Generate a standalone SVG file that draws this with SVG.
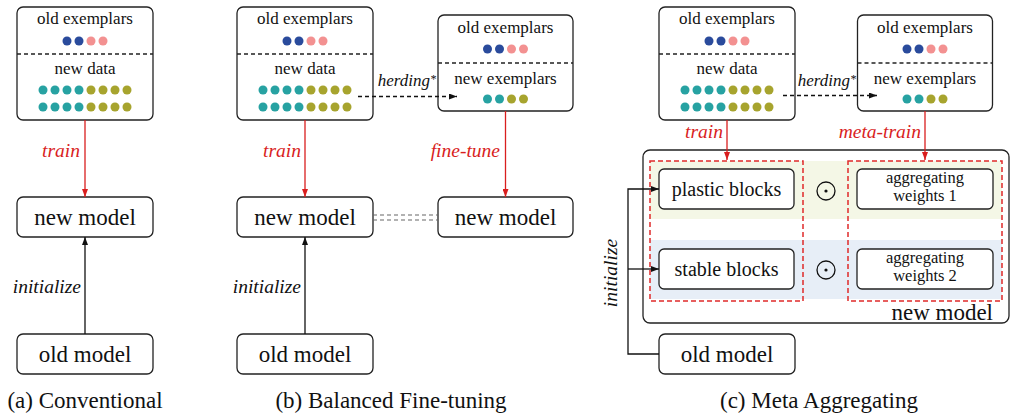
<svg xmlns="http://www.w3.org/2000/svg" width="1011" height="413" viewBox="0 0 1011 413">
  <style>
    text { font-family: 'Liberation Serif', serif; }
    .box { fill: #fff; stroke: #222; stroke-width: 1.3; }
    .sep { stroke: #222; stroke-width: 1.3; stroke-dasharray: 4 3; fill: none; }
    .t { fill: #111; text-anchor: middle; }
    .s17 { font-size: 17px; }
    .s20 { font-size: 20px; }
    .s23 { font-size: 23px; }
    .agg { font-size: 16.5px; }
    .lbl { font-style: italic; font-size: 19.5px; text-anchor: end; }
    .red { fill: #d91e1e; }
    .blk { fill: #111; }
    .cap { font-size: 23px; fill: #111; text-anchor: middle; }
    .rline { stroke: #d91e1e; stroke-width: 1.3; fill: none; }
    .kline { stroke: #111; stroke-width: 1.3; fill: none; }
    .dline { stroke: #111; stroke-width: 1.3; stroke-dasharray: 4 3; fill: none; }
    .reddash { fill: none; stroke: #e02a2a; stroke-width: 1.5; stroke-dasharray: 5 3; }
    .b { fill: #2a4b9c; }
    .p { fill: #f39191; }
    .c { fill: #27a2a2; }
    .o { fill: #a7a42e; }
  </style>
  <defs>
    <marker id="ar" viewBox="0 0 8 6" refX="8" refY="3" markerWidth="8" markerHeight="6" markerUnits="userSpaceOnUse" orient="auto">
      <path d="M0,0 L8,3 L0,6 Z" fill="#d91e1e"/>
    </marker>
    <marker id="ak" viewBox="0 0 8 6" refX="8" refY="3" markerWidth="8" markerHeight="6" markerUnits="userSpaceOnUse" orient="auto">
      <path d="M0,0 L8,3 L0,6 Z" fill="#111"/>
    </marker>
    <!-- data box: old exemplars + new data -->
    <g id="dataBox">
      <rect class="box" x="-68" y="7" width="136" height="113" rx="6"/>
      <line class="sep" x1="-68" y1="54" x2="68" y2="54"/>
      <text class="t s17" font-family="Liberation Serif" x="0" y="24">old exemplars</text>
      <circle class="b" cx="-18" cy="41" r="4.5"/><circle class="b" cx="-6" cy="41" r="4.5"/>
      <circle class="p" cx="6" cy="41" r="4.5"/><circle class="p" cx="18" cy="41" r="4.5"/>
      <text class="t s17" font-family="Liberation Serif" x="0" y="74">new data</text>
      <circle class="c" cx="-42" cy="90" r="4.5"/><circle class="c" cx="-30" cy="90" r="4.5"/>
      <circle class="c" cx="-18" cy="90" r="4.5"/><circle class="c" cx="-6" cy="90" r="4.5"/>
      <circle class="o" cx="6" cy="90" r="4.5"/><circle class="o" cx="18" cy="90" r="4.5"/>
      <circle class="o" cx="30" cy="90" r="4.5"/><circle class="o" cx="42" cy="90" r="4.5"/>
      <circle class="c" cx="-42" cy="107" r="4.5"/><circle class="c" cx="-30" cy="107" r="4.5"/>
      <circle class="c" cx="-18" cy="107" r="4.5"/><circle class="c" cx="-6" cy="107" r="4.5"/>
      <circle class="o" cx="6" cy="107" r="4.5"/><circle class="o" cx="18" cy="107" r="4.5"/>
      <circle class="o" cx="30" cy="107" r="4.5"/><circle class="o" cx="42" cy="107" r="4.5"/>
    </g>
    <!-- exemplar memory box -->
    <g id="memBox">
      <rect class="box" x="-67.5" y="15" width="135" height="96" rx="6"/>
      <line class="sep" x1="-67.5" y1="63" x2="67.5" y2="63"/>
      <text class="t s17" font-family="Liberation Serif" x="0" y="33">old exemplars</text>
      <circle class="b" cx="-18" cy="49" r="4.5"/><circle class="b" cx="-6" cy="49" r="4.5"/>
      <circle class="p" cx="6" cy="49" r="4.5"/><circle class="p" cx="18" cy="49" r="4.5"/>
      <text class="t s17" font-family="Liberation Serif" x="0" y="84">new exemplars</text>
      <circle class="c" cx="-18" cy="99" r="4.5"/><circle class="c" cx="-6" cy="99" r="4.5"/>
      <circle class="o" cx="6" cy="99" r="4.5"/><circle class="o" cx="18" cy="99" r="4.5"/>
    </g>
  </defs>

  <!-- panel (a) -->
  <g id="a-data"><use href="#dataBox" x="85" y="0"/></g>
  <g id="a-new">
    <rect class="box" x="17" y="197" width="136" height="40" rx="6"/>
    <text class="t s23" font-family="Liberation Serif" x="85" y="225">new model</text>
  </g>
  <g id="a-old">
    <rect class="box" x="17" y="334" width="136" height="40" rx="6"/>
    <text class="t s23" font-family="Liberation Serif" x="85" y="362">old model</text>
  </g>
  <text class="cap" font-family="Liberation Serif" x="85" y="408">(a) Conventional</text>

  <!-- panel (b) -->
  <g id="b-data"><use href="#dataBox" x="305" y="0"/></g>
  <g id="b-mem"><use href="#memBox" x="505.5" y="0"/></g>
  <g id="b-new">
    <rect class="box" x="237" y="197" width="136" height="40" rx="6"/>
    <text class="t s23" font-family="Liberation Serif" x="305" y="225">new model</text>
  </g>
  <g id="b-ft">
    <rect class="box" x="438" y="197" width="135" height="40" rx="6"/>
    <text class="t s23" font-family="Liberation Serif" x="505.5" y="225">new model</text>
  </g>
  <g id="b-old">
    <rect class="box" x="237" y="334" width="136" height="40" rx="6"/>
    <text class="t s23" font-family="Liberation Serif" x="305" y="362">old model</text>
  </g>
  <text class="cap" font-family="Liberation Serif" x="391" y="408">(b) Balanced Fine-tuning</text>

  <!-- panel (c) -->
  <g id="c-data"><use href="#dataBox" x="727" y="0"/></g>
  <g id="c-mem"><use href="#memBox" x="925" y="0"/></g>
  <g id="c-new">
    <rect class="box" x="643" y="150" width="366" height="173" rx="7"/>
    <rect x="650" y="161" width="352" height="58" fill="#f4f7e6"/>
    <rect x="650" y="240" width="352" height="59" fill="#e7eef7"/>
    <rect class="reddash" x="650" y="161" width="153" height="140"/>
    <rect class="reddash" x="848" y="161" width="154" height="140"/>
    <text class="t s23" font-family="Liberation Serif" x="993" y="320" text-anchor="end" style="text-anchor:end">new model</text>
  </g>
  <g id="c-plastic">
    <rect class="box" x="659" y="169" width="135" height="40" rx="5"/>
    <text class="t s20" font-family="Liberation Serif" x="726.5" y="196">plastic blocks</text>
  </g>
  <g id="c-stable">
    <rect class="box" x="659" y="249" width="135" height="40" rx="5"/>
    <text class="t s20" font-family="Liberation Serif" x="726.5" y="276">stable blocks</text>
  </g>
  <g id="c-w1">
    <rect class="box" x="857" y="169" width="136" height="40" rx="5"/>
    <text class="t agg" font-family="Liberation Serif" x="925" y="183">aggregating</text>
    <text class="t agg" font-family="Liberation Serif" x="925" y="201">weights 1</text>
  </g>
  <g id="c-w2">
    <rect class="box" x="857" y="249" width="136" height="40" rx="5"/>
    <text class="t agg" font-family="Liberation Serif" x="925" y="263">aggregating</text>
    <text class="t agg" font-family="Liberation Serif" x="925" y="281">weights 2</text>
  </g>
  <g id="c-odot1">
    <circle cx="826" cy="191" r="9" fill="none" stroke="#111" stroke-width="1.3"/>
    <circle cx="826" cy="191" r="1.6" fill="#111"/>
  </g>
  <g id="c-odot2">
    <circle cx="826" cy="270" r="9" fill="none" stroke="#111" stroke-width="1.3"/>
    <circle cx="826" cy="270" r="1.6" fill="#111"/>
  </g>
  <g id="c-old">
    <rect class="box" x="659" y="334" width="136" height="40" rx="6"/>
    <text class="t s23" font-family="Liberation Serif" x="727" y="362">old model</text>
  </g>
  <text class="cap" font-family="Liberation Serif" x="819" y="408">(c) Meta Aggregating</text>

  <!-- connectors -->
  <g id="connectors">
    <!-- (a) -->
    <line class="rline" x1="85" y1="120" x2="85" y2="197" marker-end="url(#ar)"/>
    <text class="lbl red" font-family="Liberation Serif" x="80" y="157">train</text>
    <line class="kline" x1="85" y1="334" x2="85" y2="237" marker-end="url(#ak)"/>
    <text class="lbl blk" font-family="Liberation Serif" x="81" y="293">initialize</text>

    <!-- (b) -->
    <line class="rline" x1="305" y1="120" x2="305" y2="197" marker-end="url(#ar)"/>
    <text class="lbl red" font-family="Liberation Serif" x="301" y="157">train</text>
    <line class="kline" x1="305" y1="334" x2="305" y2="237" marker-end="url(#ak)"/>
    <text class="lbl blk" font-family="Liberation Serif" x="301" y="293">initialize</text>
    <line class="dline" x1="358" y1="96.5" x2="457" y2="96.5" marker-end="url(#ak)"/>
    <text class="lbl blk" font-family="Liberation Serif" x="436" y="86" font-size="17" style="font-size:17px">herding<tspan font-size="12" dy="-3">*</tspan></text>
    <line class="rline" x1="505.5" y1="111" x2="505.5" y2="197" marker-end="url(#ar)"/>
    <text class="lbl red" font-family="Liberation Serif" x="500" y="157">fine-tune</text>
    <line x1="373" y1="215" x2="438" y2="215" stroke="#666" stroke-width="1.2" stroke-dasharray="4 3"/>
    <line x1="373" y1="220" x2="438" y2="220" stroke="#666" stroke-width="1.2" stroke-dasharray="4 3"/>

    <!-- (c) -->
    <line class="dline" x1="783" y1="95.5" x2="877" y2="95.5" marker-end="url(#ak)"/>
    <text class="lbl blk" font-family="Liberation Serif" x="856" y="86" font-size="17" style="font-size:17px">herding<tspan font-size="12" dy="-3">*</tspan></text>
    <line class="rline" x1="727" y1="120" x2="727" y2="160" marker-end="url(#ar)"/>
    <text class="lbl red" font-family="Liberation Serif" x="723" y="138">train</text>
    <line class="rline" x1="925" y1="111" x2="925" y2="160" marker-end="url(#ar)"/>
    <text class="lbl red" font-family="Liberation Serif" x="921" y="138">meta-train</text>
    <polyline class="kline" points="659,354 628,354 628,189 659,189" marker-end="url(#ak)"/>
    <line class="kline" x1="628" y1="269" x2="659" y2="269" marker-end="url(#ak)"/>
    <text class="lbl blk" font-family="Liberation Serif" transform="translate(617,273) rotate(-90)" x="0" y="0" text-anchor="middle" style="text-anchor:middle">initialize</text>
  </g>
</svg>
